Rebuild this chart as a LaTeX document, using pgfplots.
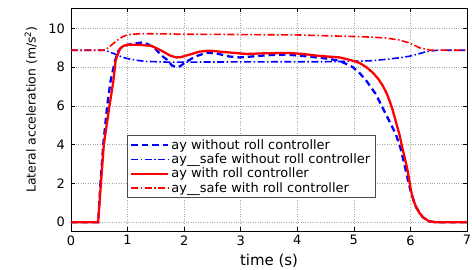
\documentclass[border=0pt]{standalone}
\usepackage{pgfplots}
\pgfplotsset{compat=1.18}
\usepackage{fontspec}
\setmainfont{DejaVu Sans}
\definecolor{mblue}{RGB}{0,0,255}
\definecolor{mred}{RGB}{255,0,0}
\begin{document}
\begin{tikzpicture}
\useasboundingbox (-71bp,-39bp) rectangle (401bp,231bp);
\begin{axis}[
  at={(0,0)}, anchor=south west,
  scale only axis,
  width=396bp, height=223bp,
  xmin=0, xmax=7, ymin=-0.45, ymax=11.05,
  xtick={0,1,2,3,4,5,6,7},
  ytick={0,2,4,6,8,10},
  /pgf/number format/assume math mode=true,
  tick label style={font=\fontsize{13}{15}\selectfont},
  yticklabel style={xshift=-2.5bp},
  xticklabel style={yshift=-1bp},
  xlabel={time (s)},
  ylabel={Lateral acceleration (m/s\textsuperscript{2})},
  every axis x label/.style={at={(axis description cs:0.5,0)}, anchor=base, yshift=-34bp, font=\fontsize{15}{17}\selectfont},
  every axis y label/.style={at={(axis description cs:-0.101,0.545)}, anchor=center, rotate=90, font=\fontsize{12.5}{14}\selectfont},
  tick align=inside,
  major tick length=4pt,
  tick style={black, line width=0.6pt},
  axis line style={black, line width=0.8pt},
  grid=major,
  major grid style={dotted, gray!70, line width=0.5pt},
  legend cell align=left,
  legend style={
    at={(0.141,0.43)}, anchor=north west,
    draw=black!70, fill=white, line width=0.6pt,
    font=\fontsize{13}{13.5}\selectfont,
    inner xsep=3pt, inner ysep=2pt,
    row sep=-1pt,
  },
  legend image code/.code={\draw[#1] (0bp,0bp) -- (37bp,0bp);},
]
% ay without roll controller
\addplot[mblue, line width=2.3pt, dash pattern=on 6.5pt off 4pt] coordinates {
(0,0) (0.48,0) (0.52,2.0) (0.57,4.0) (0.64,6.0) (0.70,7.3) (0.78,8.35) (0.83,8.8) (0.90,9.05)
(1.0,9.15) (1.1,9.2) (1.25,9.27) (1.35,9.2) (1.49,8.95) (1.6,8.6) (1.69,8.4) (1.78,8.1)
(1.86,7.98) (1.93,8.05) (2.05,8.3) (2.2,8.55) (2.4,8.75) (2.55,8.72) (2.8,8.55) (2.98,8.5)
(3.2,8.55) (3.5,8.62) (3.8,8.65) (4.16,8.56) (4.5,8.45) (4.75,8.33) (4.98,8.0) (5.1,7.7)
(5.22,7.3) (5.39,6.6) (5.51,5.9) (5.63,5.2) (5.74,4.55) (5.83,3.77) (5.9,2.9) (5.97,2.0)
(6.01,1.55) (6.1,0.77) (6.22,0.26) (6.33,0.05) (6.45,0) (7,0)
};
\addlegendentry{ay without roll controller}
% ay_safe without roll controller
\addplot[mblue, line width=1.6pt, dash pattern=on 7pt off 2.5pt on 1.5pt off 2.5pt] coordinates {
(0,8.87) (0.6,8.87) (0.7,8.76) (0.8,8.65) (0.9,8.52) (1.0,8.44) (1.15,8.36) (1.3,8.3)
(1.7,8.26) (2.0,8.26) (3.0,8.27) (4.0,8.28) (4.5,8.28) (5.0,8.3) (5.3,8.33) (5.57,8.4)
(5.8,8.48) (5.98,8.56) (6.1,8.65) (6.27,8.79) (6.4,8.85) (6.5,8.87) (7,8.87)
};
\addlegendentry{ay\_\_safe without roll controller}
% ay with roll controller
\addplot[mred, line width=2.3pt] coordinates {
(0,0) (0.48,0) (0.53,2.05) (0.58,4.0) (0.68,6.0) (0.75,7.3) (0.79,8.35) (0.865,8.95)
(0.93,9.1) (1.0,9.15) (1.2,9.15) (1.42,9.1) (1.6,8.85) (1.75,8.6) (1.86,8.5) (1.95,8.52)
(2.1,8.65) (2.27,8.8) (2.45,8.85) (2.7,8.78) (3.1,8.68) (3.5,8.72) (3.86,8.73) (4.1,8.68)
(4.39,8.58) (4.75,8.5) (4.95,8.36) (5.1,8.22) (5.22,8.0) (5.33,7.73) (5.43,7.4) (5.51,7.05)
(5.58,6.65) (5.63,6.28) (5.68,5.85) (5.72,5.43) (5.76,5.0) (5.8,4.6) (5.86,3.8) (5.91,3.2)
(5.95,2.67) (6.01,1.64) (6.05,1.15) (6.1,0.79) (6.16,0.48) (6.22,0.26) (6.33,0.05) (6.45,0) (7,0)
};
\addlegendentry{ay with roll controller}
% ay_safe with roll controller
\addplot[mred, line width=1.6pt, dash pattern=on 7pt off 2.5pt on 1.5pt off 2.5pt] coordinates {
(0,8.87) (0.6,8.87) (0.7,9.1) (0.8,9.35) (0.9,9.55) (1.0,9.67) (1.2,9.72) (1.5,9.72)
(2,9.7) (3,9.68) (4,9.66) (4.5,9.62) (5,9.58) (5.3,9.55) (5.57,9.5) (5.8,9.4) (5.98,9.25)
(6.16,9.0) (6.35,8.88) (7,8.87)
};
\addlegendentry{ay\_\_safe with roll controller}
\end{axis}
\end{tikzpicture}
\end{document}
